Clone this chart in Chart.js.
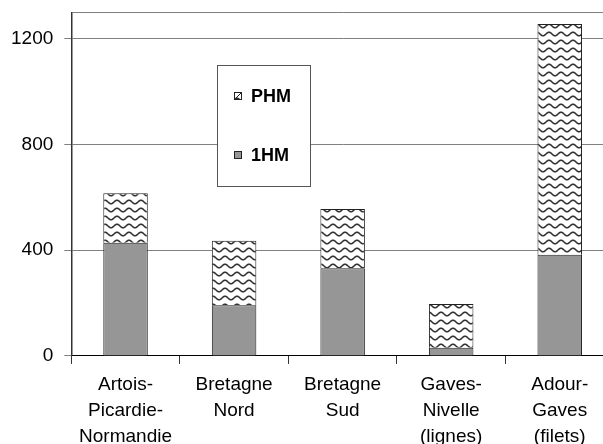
<!DOCTYPE html>
<html>
<head>
<meta charset="utf-8">
<script src="https://cdn.jsdelivr.net/npm/chart.js@4/dist/chart.umd.min.js"></script>
<style>
    html, body { margin: 0; padding: 0; background: #fff; }
    #wrap { width: 603px; height: 444px; overflow: hidden; position: relative; }
    #chart { display: block; margin-top: -10px; }
</style>
</head>
<body>
<div id="wrap"><canvas id="chart" width="614" height="468"></canvas></div>
<script>
// data
const categories = [
    ["Artois-", "Picardie-", "Normandie"],
    ["Bretagne", "Nord"],
    ["Bretagne", "Sud"],
    ["Gaves-", "Nivelle", "(lignes)"],
    ["Adour-", "Gaves", "(filets)"]
];
const hm1 = [428, 192, 332, 31, 383];
const phm = [188, 244, 224, 165, 873];
const yTicks = [0, 400, 800, 1200];
const yMax = 1300;

// canvas is pulled up by 10px (see css), legend is placed in page coords
const shift = 10;

/* ================= WAVE PATTERN ================= */
function makeWave() {
    const c = document.createElement("canvas");
    c.width = 12;
    c.height = 8;
    const g = c.getContext("2d");
    g.fillStyle = "#fff";
    g.fillRect(0, 0, 12, 8);
    g.strokeStyle = "#333";
    g.lineWidth = 1.6;
    g.beginPath();
    for (let x = -1; x <= 13; x += 0.5) {
        const y = 4 + 1.8 * Math.sin((x / 12) * Math.PI * 2);
        if (x === -1) g.moveTo(x, y); else g.lineTo(x, y);
    }
    g.stroke();
    return g.createPattern(c, "repeat");
}
const wave = makeWave();

/* ================= LEGEND BOX (inside the plot) ================= */
const boxLegend = {
    id: "boxLegend",
    afterDraw(chart) {
        const ctx = chart.ctx;
        ctx.save();
        ctx.translate(0, shift);
        ctx.fillStyle = "#fff";
        ctx.strokeStyle = "#555";
        ctx.lineWidth = 1;
        ctx.fillRect(217.5, 65.5, 93, 121);
        ctx.strokeRect(217.5, 65.5, 93, 121);

        // PHM on top, 1HM below
        const items = [
            { ds: chart.data.datasets[1], y: 96 },
            { ds: chart.data.datasets[0], y: 155 }
        ];
        ctx.font = "bold 18px 'Liberation Sans', Arial, sans-serif";
        ctx.textBaseline = "middle";
        items.forEach(it => {
            ctx.fillStyle = it.ds.backgroundColor;
            ctx.fillRect(234, it.y - 4, 8, 8);
            ctx.strokeStyle = "#222";
            ctx.strokeRect(234.5, it.y - 3.5, 7, 7);
            if (it.ds.label === "PHM") {
                ctx.beginPath();
                ctx.moveTo(235, it.y + 3);
                ctx.lineTo(241, it.y - 3);
                ctx.stroke();
            }
            ctx.fillStyle = "#000";
            ctx.fillText(it.ds.label, 251, it.y + 1);
        });
        ctx.restore();
    }
};

/* ================= CHART ================= */
new Chart(document.getElementById("chart"), {
    type: "bar",
    data: {
        labels: categories,
        datasets: [
            {
                label: "1HM",
                data: hm1,
                backgroundColor: "#969696",
                borderColor: "#222",
                borderWidth: 1,
                barPercentage: 0.41,
                categoryPercentage: 1
            },
            {
                label: "PHM",
                data: phm,
                backgroundColor: wave,
                borderColor: "#222",
                borderWidth: 1,
                barPercentage: 0.41,
                categoryPercentage: 1
            }
        ]
    },
    options: {
        responsive: false,
        animation: false,
        layout: { padding: { left: 0, top: 3, right: 0, bottom: 0 } },
        plugins: { legend: { display: false }, tooltip: { enabled: false } },
        scales: {
            x: {
                stacked: true,
                offset: true,
                border: { color: "#000", width: 1 },
                grid: { offset: true, drawOnChartArea: false, tickLength: 8, tickColor: "#333" },
                ticks: {
                    color: "#000",
                    padding: 8,
                    maxRotation: 0,
                    font: { family: "'Liberation Sans', Arial, sans-serif", size: 19, lineHeight: 1.37 }
                }
            },
            y: {
                stacked: true,
                min: 0,
                max: yMax,
                afterBuildTicks: scale => {
                    scale.ticks = yTicks.concat([yMax]).map(v => ({ value: v }));
                },
                border: { color: "#333", width: 1.5 },
                grid: {
                    color: "#808080",
                    lineWidth: 1,
                    tickLength: 7,
                    tickColor: c => (c.tick && c.tick.value === yMax ? "rgba(0,0,0,0)" : "#808080")
                },
                ticks: {
                    color: "#000",
                    padding: 11,
                    font: { family: "'Liberation Sans', Arial, sans-serif", size: 19 },
                    callback: v => (v === yMax ? "" : v)
                }
            }
        }
    },
    plugins: [boxLegend]
});
</script>
</body>
</html>
